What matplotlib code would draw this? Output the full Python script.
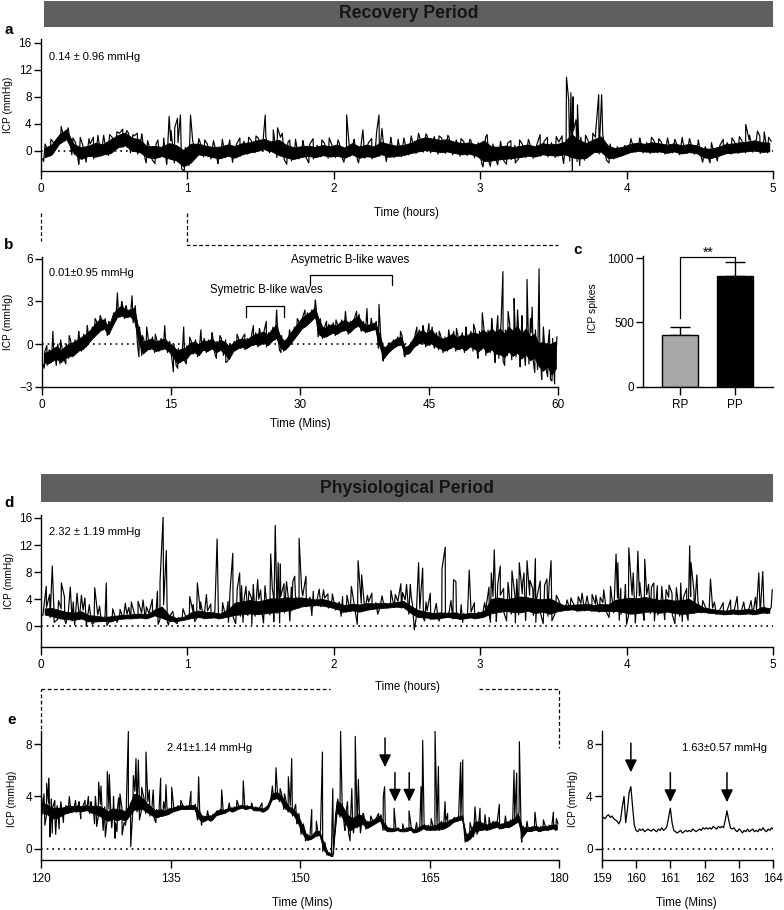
import numpy as np
import matplotlib
matplotlib.use('Agg')
import matplotlib.pyplot as plt
from matplotlib.patches import Rectangle

plt.rcParams['font.family'] = ['Liberation Sans', 'DejaVu Sans']

# ---------------- data ----------------
# panel a : recovery period, ICP every 0.025 h (alternating low / high of the band)
a_vals = [
    -1.2, 0.6, -0.8, 1.2, 0.8, 2.6, 1.5, 3.4, -0.6, 1.2,
    -1.5, 0.8, -1.0, 1.0, -1.2, 1.5, -0.8, 1.2, -0.7, 2.0,
    0.2, 2.6, 0.5, 3.0, -0.3, 2.2, -0.5, 2.0, -1.2, 0.9,
    -1.4, 1.0, -1.0, 0.8, -1.5, 1.5, -1.8, 1.2, -2.7, 0.5,
    -2.2, 1.5, -0.8, 1.3, -0.9, 1.0, -1.2, 0.8, -1.4, 0.9,
    -1.0, 1.2, -1.3, 1.0, -0.8, 1.4, -0.5, 1.5, -0.3, 1.8,
    0.0, 2.0, -0.3, 1.6, -1.0, 2.0, -1.3, 1.2, -1.5, 0.8,
    -1.2, 0.9, -1.0, 1.0, -1.2, 0.8, -0.9, 1.1, -1.1, 0.9,
    -1.0, 1.2, -1.3, 0.7, -0.8, 1.4, -1.3, 0.9, -1.1, 1.2,
    -1.2, 0.9, -0.8, 1.6, -1.2, 1.3, -1.0, 1.0, -0.9, 1.1,
    -0.6, 1.4, -0.4, 2.0, -0.2, 2.3, -0.3, 2.1, -0.5, 1.9,
    -0.4, 2.0, -0.6, 1.6, -0.8, 1.4, -0.7, 1.5, -1.0, 1.2,
    -2.0, 2.0, -1.8, 1.0, -1.6, 0.9, -1.5, 1.1, -1.3, 0.8,
    -1.2, 1.0, -1.0, 1.2, -1.1, 0.9, -0.8, 1.4, -0.9, 1.2,
    -1.0, 1.3, -0.8, 1.6, -1.5, 3.0, -1.6, 2.0, -1.4, 1.5,
    -0.5, 2.0, -0.5, 2.5, -1.4, 1.0, -1.2, 0.6, -0.8, 0.8,
    -0.4, 1.2, -0.2, 1.4, -0.3, 1.2, -0.4, 1.5, -0.3, 1.3,
    -0.5, 1.1, -0.3, 1.3, -0.6, 1.0, -0.4, 1.2, -0.5, 1.0,
    -1.2, 0.6, -1.3, 0.5, -1.0, 0.8, -0.6, 1.2, -0.5, 1.3,
    -0.4, 1.5, -0.3, 1.6, -0.2, 1.8, -0.4, 1.5, -0.3, 1.4,
]
a_spk_t = [0.14, 0.39, 0.43, 0.60, 0.66, 0.877, 0.915, 0.934, 0.954, 1.023,
           1.533, 1.588, 1.617, 1.65, 2.089, 2.2, 2.294, 2.31, 2.33, 3.048,
           3.41, 3.59, 3.605, 3.62, 3.63, 3.635, 3.655, 3.665, 3.81, 3.83,
           4.814, 4.894, 4.94]
a_spk_v = [3.6, 2.3, 2.3, 2.6, 2.6, 5.1, 3.4, 4.8, 5.3, 5.3,
           5.3, 3.1, 3.4, 2.6, 5.3, 3.1, 2.9, 5.3, 3.3, 2.4,
           2.4, 10.9, 7.5, 8.6, -3.1, 8.0, 4.6, 6.8, 8.3, 8.3,
           3.9, 2.9, 2.8]
# small excursions above / below the band
a_minor_t = [0.02, 0.03, 0.07, 0.22, 0.26, 0.27, 0.31, 0.33, 0.36, 0.47,
             0.52, 0.56, 0.63, 0.69, 0.72, 0.73, 0.78, 0.80, 0.84, 0.86,
             0.89, 0.98, 1.08, 1.12, 1.18, 1.21, 1.24, 1.29, 1.31, 1.36,
             1.42, 1.47, 1.68, 1.70, 1.74, 1.79, 1.83, 1.86, 1.92, 1.97,
             2.03, 2.07, 2.14, 2.17, 2.26, 2.36, 2.39, 2.44, 2.48, 2.53,
             2.58, 2.63, 2.72, 2.78, 2.87, 2.93, 3.02, 3.07, 3.12, 3.14,
             3.18, 3.21, 3.24, 3.27, 3.33, 3.46, 3.52, 3.56, 3.57, 3.68,
             3.72, 3.77, 3.79, 3.88, 4.03, 4.09, 4.17, 4.22, 4.28, 4.33,
             4.38, 4.43, 4.49, 4.52, 4.57, 4.58, 4.62, 4.66, 4.72, 4.77,
             4.84, 4.91, 4.97]
a_minor_v = [-1.6, 1.0, 1.7, 1.9, -2.0, 2.0, -1.7, 1.8, 2.0, 2.4,
             2.8, 3.2, 2.4, 2.5, -1.8, 1.5, -1.9, 1.6, 1.9, -2.0,
             3.0, -3.0, 1.8, 1.6, 1.5, -1.9, 1.7, 1.6, -1.7, 1.9,
             2.0, 2.2, -2.0, 1.6, 1.7, 1.5, -1.8, 1.8, 1.6, 1.9,
             1.6, -1.7, 1.7, -1.8, 1.8, -1.6, 2.0, 1.7, 1.9, 2.2,
             2.6, 2.5, 2.2, 2.3, 1.8, 1.7, -2.4, -2.3, -2.1, 1.4,
             -2.0, 1.5, -1.8, 1.6, 1.7, 2.0, 2.1, 2.2, -1.9, -2.2,
             2.3, 2.6, 3.0, -1.8, 1.8, 1.9, 2.0, 1.8, 1.9, 1.7,
             2.0, 1.8, 1.6, -1.7, -1.8, 1.2, -1.5, 1.7, 1.9, 2.1,
             2.3, 2.2, 2.0]

# panel b : first hour, every 0.25 min
b_vals = [
    -1.4, -0.5, -1.5, -0.4, -1.3, -0.2, -1.2, 0.0, -1.4, -0.3,
    -1.1, 0.0, -1.0, 0.2, -0.9, 0.3, -0.6, 0.5, -0.5, 0.7,
    -0.2, 0.9, 0.2, 1.2, 0.5, 1.6, 0.8, 1.9, 1.0, 1.8,
    0.6, 1.3, 1.2, 2.2, 1.8, 2.6, 1.9, 2.8, 1.8, 2.5,
    1.9, 2.5, 1.5, 2.7, 0.0, 1.2, -0.8, 0.3, -0.5, 0.4,
    -0.4, 0.5, -0.6, 0.3, -0.5, 0.4, -0.4, 0.5, -0.6, 0.2,
    -1.0, 0.0, -1.5, -0.3, -1.3, -0.2, -1.2, -0.1, -0.8, 0.2,
    -0.7, 0.3, -0.9, 0.1, -0.5, 0.4, -0.6, 0.3, -0.4, 0.5,
    -0.7, 0.2, -0.5, 0.4, -0.8, 0.3, -1.2, 0.0, -0.6, 0.2,
    -0.4, 0.4, -0.3, 0.5, -0.4, 0.4, -0.2, 0.6, -0.1, 0.8,
    -0.2, 0.9, 0.0, 1.0, -0.2, 0.8, 0.1, 1.2, 0.3, 1.5,
    -0.4, 0.6, -0.5, 0.3, -0.2, 0.8, 0.2, 1.2, 0.6, 1.6,
    1.0, 2.0, 1.2, 2.2, 1.5, 2.4, 1.8, 2.7, 0.5, 1.8,
    0.4, 1.2, 0.5, 1.4, 0.7, 1.5, 0.6, 1.4, 0.8, 1.7,
    0.9, 1.8, 0.7, 1.6, 1.0, 1.9, 1.2, 2.1, 0.9, 1.6,
    0.8, 1.4, 0.9, 1.5, 1.0, 1.6, -0.3, 0.8, -1.1, -0.2,
    -0.7, 0.1, -0.4, 0.3, -0.2, 0.5, -0.1, 0.6, -0.8, -0.2,
    -0.7, 0.1, -0.3, 0.6, -0.1, 1.0, 0.0, 1.1, -0.2, 0.9,
    -0.1, 1.2, -0.3, 0.8, -0.4, 0.6, -0.6, 0.5, -0.5, 0.7,
    -0.3, 0.9, -0.5, 0.6, -0.4, 0.8, -0.6, 0.7, -0.3, 0.9,
    -0.5, 1.0, -0.7, 0.9, -0.4, 1.2, -0.8, 1.0, -0.6, 1.3,
    -0.9, 1.1, -1.0, 1.4, -1.2, 1.0, -0.8, 1.5, -1.1, 1.2,
    -0.9, 1.6, -1.3, 1.0, -1.0, 1.4, -1.4, 0.8, -1.2, 1.0,
    -1.8, 0.3, -2.2, 0.5, -1.8, 0.2, -2.5, 0.4, -2.0, 0.5,
]
b_spk_t = [1.3, 8.8, 10.5, 12.2, 14.3, 15.3, 16.5, 18.5, 24.6, 26.1,
           27.3, 31.8, 35.3, 37.8, 39.2, 45.0, 51.2, 53.6, 54.9, 56.4,
           57.0, 57.8, 59.6]
b_spk_v = [0.9, 3.6, 3.4, 1.2, 1.3, -1.95, 1.2, 1.0, 1.3, 1.6,
           2.4, 3.1, 2.3, 2.5, 2.8, 1.45, 2.2, 5.1, 3.2, 4.55,
           2.6, 5.3, -2.8]
b_minor_t = [0.3, 0.6, 1.7, 2.2, 2.8, 3.2, 4.3, 5.3, 6.2, 6.8,
             7.8, 9.3, 9.8, 11.3, 11.7, 13.2, 15.8, 16.8, 17.2, 19.8,
             20.3, 20.7, 21.4, 22.7, 23.6, 25.3, 27.8, 28.8, 29.7, 30.6,
             33.1, 34.2, 36.6, 38.3, 39.7, 41.7, 42.2, 43.6, 44.3, 46.2,
             47.3, 48.2, 49.3, 50.2, 50.7, 52.3, 52.7, 53.0, 53.8, 54.2,
             55.3, 55.6, 55.8, 56.2, 56.8, 57.3, 58.1, 58.3, 58.8, 59.0,
             59.3]
b_minor_v = [-1.7, -0.1, -1.5, 0.3, -1.4, 0.6, 0.9, 1.3, 1.8, 2.0,
             1.6, 3.0, 2.7, -0.9, 0.6, 0.7, -1.7, -1.4, 0.5, 0.8,
             -1.0, 0.6, -1.3, 0.7, 0.7, 1.1, -0.6, 1.0, 1.8, 2.4,
             1.6, 1.7, 2.3, 1.8, -1.2, 0.9, -0.9, 1.2, 1.3, 0.9,
             1.0, 1.1, 1.2, 1.4, -1.0, 1.8, -1.3, 2.0, -1.5, 2.3,
             2.4, -1.6, 2.0, -1.5, 1.8, -2.0, -2.5, 1.2, -2.3, 1.0,
             -2.6]

# panel c : ICP spikes
groups = ['RP', 'PP']
spikes_mean = [402, 862]
spikes_err = [60, 111]

# panel d : physiological period, every 0.025 h
d_vals = [
    1.6, 2.8, 1.3, 2.9, 1.0, 2.6, 0.9, 2.3, 0.8, 2.2,
    1.0, 2.4, 0.6, 1.8, 0.6, 1.7, 0.7, 1.5, 0.6, 1.6,
    1.0, 1.7, 1.1, 1.8, 1.1, 1.9, 1.2, 2.0, 1.1, 1.9,
    1.5, 2.6, 1.0, 3.2, 0.7, 1.8, 0.7, 1.3, 0.9, 1.5,
    1.1, 2.2, 1.2, 2.5, 1.1, 2.3, 1.2, 2.2, 1.1, 2.0,
    1.3, 2.6, 1.4, 3.8, 1.5, 4.0, 1.6, 4.2, 1.5, 4.0,
    1.6, 4.2, 1.7, 4.5, 1.9, 4.4, 2.0, 4.6, 2.3, 4.5,
    2.7, 4.5, 2.9, 4.3, 3.0, 4.1, 2.9, 4.2, 2.7, 3.9,
    2.4, 3.6, 2.0, 3.3, 2.2, 3.5, 2.0, 3.4, 2.3, 3.6,
    2.5, 3.5, 2.6, 3.6, 2.7, 3.5, 2.8, 3.7, 2.7, 3.9,
    1.8, 3.2, 1.2, 2.6, 1.2, 2.3, 1.0, 2.1, 1.1, 2.2,
    1.3, 2.1, 1.1, 2.2, 1.0, 1.9, 1.2, 2.1, 1.1, 2.1,
    1.3, 2.4, 1.6, 4.4, 1.8, 4.6, 2.0, 4.3, 1.8, 4.5,
    1.7, 4.8, 2.0, 4.6, 1.6, 4.4, 1.9, 4.3, 1.5, 4.5,
    2.0, 3.8, 2.3, 3.2, 2.4, 3.3, 2.2, 3.4, 2.3, 3.5,
    2.2, 3.3, 2.1, 3.5, 2.1, 3.4, 2.0, 4.2, 1.8, 4.4,
    1.5, 4.6, 1.6, 4.5, 1.8, 4.7, 1.9, 4.4, 1.7, 4.2,
    1.9, 4.3, 1.7, 4.1, 1.5, 4.2, 1.6, 4.4, 1.9, 3.6,
    2.0, 2.9, 1.9, 2.7, 1.8, 2.5, 1.7, 2.4, 1.8, 2.6,
    1.7, 2.5, 1.8, 2.7, 1.7, 2.5, 1.9, 3.0, 1.9, 2.8,
]
d_spk_t = [0.036, 0.059, 0.077, 0.139, 0.20, 0.246, 0.276, 0.30, 0.367, 0.446,
           0.576, 0.617, 0.663, 0.697, 0.795, 0.813, 0.834, 0.856, 1.016, 1.068,
           1.13, 1.203, 1.278, 1.31, 1.357, 1.40, 1.48, 1.569, 1.60, 1.62,
           1.635, 1.677, 1.733, 1.763, 1.81, 1.93, 1.96, 2.12, 2.166, 2.19,
           2.26, 2.39, 2.458, 2.497, 2.522, 2.579, 2.607, 2.659, 2.739, 2.761,
           2.818, 2.834, 2.925, 3.076, 3.096, 3.137, 3.217, 3.267, 3.299, 3.32,
           3.377, 3.456, 3.484, 3.594, 3.696, 3.764, 3.844, 3.928, 3.94, 3.992,
           4.015, 4.045, 4.077, 4.124, 4.186, 4.24, 4.31, 4.431, 4.44, 4.48,
           4.573, 4.755, 4.903, 4.93, 4.995]
d_spk_v = [5.9, 4.7, 8.9, 6.4, 5.8, 4.9, 4.6, 4.2, 5.7, 6.4,
           3.4, 3.6, 3.7, 3.9, 5.2, 6.6, 16.1, 11.2, 4.4, 6.4,
           4.7, 12.9, 3.7, 10.8, 7.9, 5.9, 6.9, 10.7, 14.9, 9.4,
           9.2, 6.6, 7.4, 13.0, 7.4, 5.4, 4.8, 5.9, 9.7, 7.6,
           4.9, 5.3, 6.3, 6.2, 6.2, 9.4, 8.6, 4.9, 8.5, 11.7,
           6.9, 6.6, 8.3, 7.9, 11.3, 8.9, 8.2, 9.4, 7.9, 9.7,
           10.0, 7.0, 9.7, 3.9, 4.9, 4.7, 5.4, 10.7, 9.4, 6.2,
           11.6, 7.9, 11.1, 9.9, 6.4, 5.9, 4.9, 11.9, 9.4, 7.6,
           7.0, 4.4, 7.9, 8.1, 5.4]
d_minor_t = [0.09, 0.12, 0.16, 0.17, 0.22, 0.23, 0.31, 0.33, 0.35, 0.40,
             0.45, 0.49, 0.52, 0.54, 0.60, 0.72, 0.76, 0.80, 0.87, 0.90,
             0.93, 0.97, 1.04, 1.05, 1.09, 1.16, 1.24, 1.28, 1.29, 1.33,
             1.34, 1.37, 1.38, 1.42, 1.44, 1.45, 1.50, 1.52, 1.53, 1.58,
             1.59, 1.63, 1.66, 1.70, 1.71, 1.72, 1.78, 1.85, 1.86, 1.90,
             1.99, 2.05, 2.06, 2.09, 2.16, 2.23, 2.30, 2.33, 2.42, 2.47,
             2.53, 2.55, 2.62, 2.63, 2.70, 2.72, 2.80, 2.87, 2.88, 2.96,
             3.03, 3.06, 3.07, 3.11, 3.12, 3.16, 3.18, 3.19, 3.23, 3.24,
             3.25, 3.29, 3.31, 3.34, 3.36, 3.38, 3.41, 3.43, 3.44, 3.47,
             3.49, 3.52, 3.62, 3.67, 3.73, 3.79, 3.82, 3.88, 3.89, 3.95,
             3.96, 4.00, 4.03, 4.06, 4.07, 4.09, 4.12, 4.15, 4.17, 4.19,
             4.21, 4.26, 4.27, 4.29, 4.33, 4.34, 4.37, 4.38, 4.41, 4.42,
             4.46, 4.52, 4.60, 4.66, 4.71, 4.80, 4.85, 4.88]
d_minor_v = [0.6, 3.8, 4.4, 0.4, 3.6, 0.2, 0.0, 3.2, 0.3, 3.0,
             0.1, 2.6, 0.6, 2.5, 2.8, 2.9, 4.0, 0.3, 0.2, 2.2,
             0.4, 2.6, 3.2, 0.7, 3.6, 3.3, 3.5, 0.6, 4.8, 0.4,
             5.5, 6.0, 0.6, 5.2, 0.3, 6.2, 5.4, 0.5, 6.0, 5.6,
             0.7, 0.5, 6.3, 0.8, 5.8, 6.6, 5.6, 1.6, 5.2, 5.5,
             4.8, 1.5, 4.4, 4.6, 0.3, 4.6, 1.8, 4.5, 4.7, 5.0,
             4.2, -0.5, 0.8, 3.6, 3.4, 0.8, 3.8, 3.2, 0.6, 3.5,
             3.5, 5.8, 0.6, 0.7, 6.2, 5.6, 0.8, 6.5, 5.9, 0.5,
             7.0, 6.4, 0.9, 6.8, 5.5, 0.6, 6.7, 0.4, 6.1, 5.8,
             0.8, 4.6, 4.2, 4.4, 4.5, 4.6, 4.3, 1.3, 5.9, 0.9,
             5.6, 0.3, 6.8, 0.5, 5.9, 6.5, 0.9, 6.2, 5.8, 0.8,
             6.0, 1.0, 5.4, 6.1, 0.4, 5.7, 6.4, 0.7, 5.6, 0.9,
             5.2, 3.8, 3.6, 3.5, 3.9, 3.6, 3.8, 4.3]

# panel e : minutes 120-180, every 0.25 min
e_vals = [
    2.6, 3.6, 2.5, 3.5, 2.2, 3.2, 2.2, 3.3, 2.4, 3.2,
    2.6, 3.3, 2.7, 3.4, 2.8, 3.3, 2.8, 3.4, 2.8, 3.3,
    2.9, 3.4, 2.7, 3.3, 2.6, 3.4, 2.4, 3.4, 2.2, 3.2,
    2.0, 3.0, 2.2, 3.2, 2.0, 3.2, 2.2, 3.1, 2.0, 3.0,
    2.4, 3.5, 2.8, 4.4, 2.8, 4.3, 2.9, 4.0, 2.7, 3.6,
    2.5, 3.3, 2.3, 3.0, 2.4, 3.1, 2.5, 3.0, 2.6, 3.1,
    2.8, 3.2, 2.9, 3.3, 3.0, 3.4, 3.0, 3.3, 3.0, 3.4,
    3.0, 3.4, 2.2, 3.0, 2.0, 2.5, 2.2, 2.6, 2.1, 2.6,
    2.5, 2.9, 2.6, 3.1, 2.7, 3.0, 2.9, 3.2, 2.8, 3.2,
    3.0, 3.3, 3.1, 3.4, 3.0, 3.3, 3.1, 3.3, 2.9, 3.2,
    2.9, 3.2, 2.8, 3.1, 3.0, 3.4, 3.7, 4.3, 3.8, 4.4,
    3.6, 4.2, 3.0, 3.7, 2.8, 3.3, 2.5, 3.1, 1.9, 2.7,
    1.1, 1.9, 0.6, 1.1, 0.7, 1.0, 0.9, 1.4, 1.0, 1.4,
    -0.2, 0.5, -0.5, -0.3, -0.6, -0.4, 2.6, 3.8, 2.4, 3.6,
    1.8, 3.0, 1.2, 2.6, 1.5, 2.5, 1.6, 2.8, 1.8, 2.6,
    1.5, 2.1, 1.7, 2.2, 1.9, 2.4, 2.1, 2.6, 1.4, 2.0,
    1.3, 1.6, 1.3, 1.6, 1.4, 1.6, 1.3, 1.5, 1.3, 1.6,
    1.4, 1.7, 1.2, 1.5, 1.3, 1.7, 1.5, 1.9, 1.4, 1.8,
    1.4, 1.8, 1.4, 1.9, 1.4, 2.1, 1.5, 2.1, 1.7, 2.2,
    2.0, 2.4, 2.1, 2.5, 2.2, 2.6, 0.5, 1.1, 0.7, 1.5,
    1.2, 2.2, 1.3, 2.2, 1.4, 2.0, 1.4, 1.9, 1.5, 2.1,
    1.6, 2.2, 1.5, 1.9, 1.6, 2.1, 1.6, 2.2, 1.8, 2.4,
    2.0, 2.8, 0.8, 1.7, 1.3, 1.7, 1.3, 1.7, 1.4, 1.8,
    1.3, 1.7, 1.4, 1.8, 1.4, 1.8, 1.5, 1.9, 1.4, 1.9,
]
e_spk_t = [120.35, 120.66, 120.89, 123.28, 125.48, 126.68, 126.95, 127.68, 127.91, 129.15,
           130.12, 130.39, 130.7, 131.0, 131.27, 131.66, 132.16, 132.55, 133.0, 133.86,
           134.48, 135.14, 137.37, 138.26, 140.93, 143.43, 147.22, 148.65, 149.04, 151.36,
           151.9, 152.6, 153.8, 154.7, 155.8, 156.0, 156.4, 156.76, 159.65, 159.8,
           160.9, 162.63, 164.02, 164.21, 165.64, 166.03, 166.8, 168.6, 168.85, 170.27,
           170.85, 171.43, 173.09, 174.79, 175.1, 175.41, 175.68, 177.22, 179.35]
e_spk_v = [4.2, 5.0, 5.4, 4.0, 4.0, 5.1, 4.8, 5.9, 5.7, 4.2,
           9.0, 0.15, 5.6, 6.9, 6.8, 4.7, 7.4, 4.5, 4.5, 5.4,
           4.9, 4.7, 4.4, 5.5, 4.5, 5.2, 6.2, 5.5, 6.9, 3.0,
           2.1, 7.4, 4.6, 9.0, 0.6, 4.6, 8.6, 5.3, 4.0, 4.75,
           3.1, 2.9, 4.75, 8.3, 9.0, 6.3, 3.6, 6.6, 6.8, 3.2,
           3.1, 2.6, 3.4, 6.0, 5.8, 8.2, 0.5, 2.8, 2.8]
e_minor_t = [120.1, 120.45, 121.04, 121.2, 121.3, 121.6, 121.7, 122.1, 122.3, 122.6,
             124.0, 124.4, 124.6, 125.1, 125.8, 126.2, 126.3, 126.45, 127.2, 127.45,
             128.2, 128.4, 128.57, 128.8, 129.0, 129.4, 129.8, 129.9, 131.4, 131.9,
             132.9, 133.3, 134.2, 136.2, 138.6, 139.3, 141.8, 142.7, 144.4, 145.6,
             146.8, 147.7, 148.2, 149.5, 149.8, 150.6, 155.2, 155.5, 156.2, 157.0,
             157.3, 158.2, 159.1, 161.9, 163.5, 165.2, 167.1, 169.7, 170.1, 170.5,
             171.9, 173.8, 176.3, 178.2, 179.7]
e_minor_v = [3.9, 1.8, 0.9, 3.8, 1.2, 3.7, 1.1, 1.5, 3.6, 2.0,
             3.7, 3.6, 2.3, 3.7, 3.6, 1.9, 4.0, 1.7, 1.4, 0.9,
             1.6, 4.0, 0.8, 1.3, 3.9, 1.05, 1.8, 3.8, 2.2, 4.0,
             3.7, 2.0, 3.6, 3.7, 1.8, 2.9, 3.5, 3.7, 3.5, 3.5,
             4.8, 4.6, 4.2, 3.4, 2.0, 1.3, 1.4, 3.6, 1.2, 1.2,
             2.7, 2.5, 2.7, 1.9, 2.0, 2.3, 2.7, 2.0, 0.9, 1.1,
             2.4, 2.5, 2.1, 2.2, 2.3]

# panel e, right : minutes 159-164, every 0.05 min
z_vals = [
    2.2, 2.4, 2.3, 2.5, 2.6, 2.4, 2.5, 2.3, 2.2, 2.1,
    1.9, 2.2, 3.2, 4.0, 2.0, 3.0, 4.3, 4.75, 3.2, 1.8,
    1.4, 1.3, 1.5, 1.4, 1.5, 1.3, 1.4, 1.5, 1.4, 1.35,
    1.5, 1.4, 1.3, 1.5, 1.4, 1.6, 1.4, 1.5, 1.7, 2.4,
    3.1, 2.0, 1.4, 1.3, 1.2, 1.3, 1.4, 1.2, 1.3, 1.4,
    1.3, 1.4, 1.3, 1.5, 1.4, 1.3, 1.4, 1.5, 1.4, 1.6,
    1.5, 1.6, 1.5, 1.6, 1.5, 1.7, 1.6, 1.5, 1.7, 1.6,
    1.7, 1.6, 2.2, 2.9, 2.2, 1.6, 1.5, 1.6, 1.4, 1.3,
    1.5, 1.4, 1.2, 1.4, 1.3, 1.5, 1.3, 1.4, 1.5, 1.3,
    1.4, 1.3, 1.5, 1.4, 1.6, 1.4, 1.3, 1.5, 1.4, 1.6,
    1.5,
]
arrows_e = [159.85, 161.0, 162.65]


def draw_signal(ax, t0, dt, vals, sp_t, sp_v, mi_t, mi_v):
    # dense recording: solid body of each low/high pair, then the raw trace on top
    lo = np.array(vals[0::2])
    hi = np.array(vals[1::2])
    tm = t0 + dt * (2 * np.arange(len(lo)) + 1.0)
    span = hi - lo
    ax.fill_between(tm, lo + 0.12 * span, hi - 0.12 * span, color='k', lw=0.6,
                    edgecolor='k', zorder=2)
    t = np.concatenate([t0 + dt * (np.arange(len(vals)) + 0.5), sp_t, mi_t])
    v = np.concatenate([vals, sp_v, mi_v])
    o = np.argsort(t, kind='stable')
    ax.plot(t[o], v[o], color='k', lw=0.85, zorder=3)


def style(ax):
    ax.spines['top'].set_visible(False)
    ax.spines['right'].set_visible(False)
    ax.spines['left'].set_linewidth(1.0)
    ax.spines['bottom'].set_linewidth(1.0)
    ax.tick_params(direction='out', width=1.0, labelsize=8.5, colors='k')
    ax.tick_params(axis='y', length=5, pad=1.5)
    ax.tick_params(axis='x', length=6, pad=3)


def zero_line(ax, x0, x1):
    ax.plot([x0, x1], [0, 0], color='k', lw=1.2, ls=(0, (1, 2.4)), zorder=1)


W, H = 784, 910
fig = plt.figure(figsize=(W / 100, H / 100), dpi=100)
fig.patch.set_facecolor('white')


def box(l, r, top, bot):
    return [l / W, 1 - bot / H, (r - l) / W, (bot - top) / H]


# ---- a
ax_a = fig.add_axes(box(40.7, 773, 39.4, 171))
zero_line(ax_a, 0, 5)
draw_signal(ax_a, 0, 0.025, a_vals, a_spk_t, a_spk_v, a_minor_t, a_minor_v)
ax_a.set_xlim(0, 5)
ax_a.set_ylim(-3, 16.5)
ax_a.set_xticks([0, 1, 2, 3, 4, 5])
ax_a.set_yticks([0, 4, 8, 12, 16])
style(ax_a)
ax_a.set_xlabel('Time (hours)', fontsize=8.3, va='center')
ax_a.xaxis.set_label_coords(0.5, -0.319)
ax_a.set_ylabel('ICP (mmHg)', fontsize=7.3, va='center', ha='center')
ax_a.yaxis.set_label_coords(-0.044, 0.5)

# ---- b
ax_b = fig.add_axes(box(41.7, 558, 256.7, 386.7))
zero_line(ax_b, 0, 60)
draw_signal(ax_b, 0, 0.25, b_vals, b_spk_t, b_spk_v, b_minor_t, b_minor_v)
ax_b.set_xlim(0, 60)
ax_b.set_ylim(-3, 6.15)
ax_b.set_xticks([0, 15, 30, 45, 60])
ax_b.set_yticks([-3, 0, 3, 6])
style(ax_b)
ax_b.set_xlabel('Time (Mins)', fontsize=8.3, va='center')
ax_b.xaxis.set_label_coords(0.5, -0.287)
ax_b.set_ylabel('ICP (mmHg)', fontsize=7.3, va='center', ha='center')
ax_b.yaxis.set_label_coords(-0.065, 0.5)
# wave brackets
ax_b.plot([23.8, 23.8, 28.1, 28.1], [1.92, 2.7, 2.7, 1.92], color='k', lw=0.9)
ax_b.plot([31.2, 31.2, 40.7, 40.7], [4.15, 4.86, 4.86, 4.15], color='k', lw=0.9)
ax_b.text(26.1, 3.8, 'Symetric B-like waves', fontsize=8.3, ha='center', va='center')
ax_b.text(35.9, 5.9, 'Asymetric B-like waves', fontsize=8.3, ha='center', va='center',
          clip_on=False)

# ---- c
ax_c = fig.add_axes(box(643, 773, 255.7, 386.7))
xc = np.arange(len(groups))
ax_c.bar(xc, spikes_mean, width=0.657, color=['#a8a8a8', 'black'],
         edgecolor='black', linewidth=1.0, zorder=2)
ax_c.errorbar(xc, spikes_mean, yerr=[[0, 0], spikes_err], fmt='none', ecolor='k',
              elinewidth=1.0, capsize=7.2, capthick=1.0, zorder=1)
ax_c.plot([0, 0, 1, 1], [533, 1006, 1006, 980], color='k', lw=0.9, clip_on=False)
ax_c.text(0.5, 1045, '**', fontsize=10, ha='center', va='center')
ax_c.set_xlim(-0.684, 1.688)
ax_c.set_ylim(0, 1020)
ax_c.set_xticks(xc)
ax_c.set_xticklabels(groups)
ax_c.set_yticks([0, 500, 1000])
style(ax_c)
ax_c.set_ylabel('ICP spikes', fontsize=7.5, va='center', ha='center')
ax_c.yaxis.set_label_coords(-0.385, 0.6)

# ---- d
ax_d = fig.add_axes(box(41, 773, 514.6, 646.7))
zero_line(ax_d, 0, 5)
draw_signal(ax_d, 0, 0.025, d_vals, d_spk_t, d_spk_v, d_minor_t, d_minor_v)
ax_d.set_xlim(0, 5)
ax_d.set_ylim(-3, 16.5)
ax_d.set_xticks([0, 1, 2, 3, 4, 5])
ax_d.set_yticks([0, 4, 8, 12, 16])
style(ax_d)
ax_d.set_xlabel('Time (hours)', fontsize=8.3, va='center')
ax_d.xaxis.set_label_coords(0.5, -0.303)
ax_d.set_ylabel('ICP (mmHg)', fontsize=7.3, va='center', ha='center')
ax_d.yaxis.set_label_coords(-0.044, 0.5)

# ---- e (main)
ax_e = fig.add_axes(box(41, 559, 731.2, 860.4))
zero_line(ax_e, 120, 180)
draw_signal(ax_e, 120, 0.25, e_vals, e_spk_t, e_spk_v, e_minor_t, e_minor_v)
ax_e.set_xlim(120, 180)
ax_e.set_ylim(-0.9, 9.0)
ax_e.set_xticks([120, 135, 150, 165, 180])
ax_e.set_yticks([0, 4, 8])
style(ax_e)
ax_e.set_xlabel('Time (Mins)', fontsize=8.3, va='center')
ax_e.xaxis.set_label_coords(0.504, -0.332)
ax_e.set_ylabel('ICP (mmHg)', fontsize=7.3, va='center', ha='center')
ax_e.yaxis.set_label_coords(-0.056, 0.48)

# ---- e (zoom)
ax_f = fig.add_axes(box(601.7, 773.3, 731.2, 860.4))
tz = np.linspace(159, 164, len(z_vals))
zero_line(ax_f, 159, 164)
ax_f.plot(tz, z_vals, color='k', lw=0.9, zorder=2)
ax_f.set_xlim(159, 164)
ax_f.set_ylim(-0.9, 9.0)
ax_f.set_xticks([159, 160, 161, 162, 163, 164])
ax_f.set_yticks([0, 4, 8])
style(ax_f)
ax_f.set_xlabel('Time (Mins)', fontsize=8.3, va='center')
ax_f.xaxis.set_label_coords(0.495, -0.332)
ax_f.set_ylabel('ICP (mmHg)', fontsize=7.3, va='center', ha='center')
ax_f.yaxis.set_label_coords(-0.165, 0.48)

arr = dict(arrowstyle='-|>,head_length=0.75,head_width=0.36', color='k', lw=1.1,
           shrinkA=0, shrinkB=0, mutation_scale=10)
tails = [8.48, 5.82, 5.82]
heads = [6.24, 3.6, 3.6]
for x, y0, y1 in zip(arrows_e, tails, heads):
    ax_e.annotate('', xy=(x, y1), xytext=(x, y0), arrowprops=arr)
tails_z = [8.08, 5.82, 5.82]
heads_z = [5.85, 3.56, 3.56]
for x, y0, y1 in zip(arrows_e, tails_z, heads_z):
    ax_f.annotate('', xy=(x, y1), xytext=(x, y0), arrowprops=arr)

# ---- overlay in pixel units: headers, panel letters, notes, dashed guides
ov = fig.add_axes([0, 0, 1, 1])
ov.set_xlim(0, W)
ov.set_ylim(H, 0)
ov.axis('off')

ov.add_patch(Rectangle((44, 0.5), 729, 26.5, facecolor='#5f5f5f', edgecolor='none'))
ov.text(408.5, 14, 'Recovery Period', fontsize=12.7, fontweight='bold',
        color='#151515', ha='center', va='center')
ov.add_patch(Rectangle((41, 474.3), 732, 28, facecolor='#5f5f5f', edgecolor='none'))
ov.text(407, 488.5, 'Physiological Period', fontsize=12.7, fontweight='bold',
        color='#151515', ha='center', va='center')

for lab, x, y in [('a', 9, 30), ('b', 9, 245), ('c', 578, 250), ('d', 9, 503), ('e', 12, 720)]:
    ov.text(x, y, lab, fontsize=11, fontweight='bold', ha='center', va='center')

notes = [('0.14 \u00b1 0.96 mmHg', 49, 57), ('0.01\u00b10.95 mmHg', 49, 272.7),
         ('2.32 \u00b1 1.19 mmHg', 49, 531.7), ('2.41\u00b11.14 mmHg', 166.7, 748.3),
         ('1.63\u00b10.57 mmHg', 681.7, 748.3)]
for s, x, y in notes:
    ov.text(x, y, s, fontsize=8, ha='left', va='center')

dash = dict(color='k', lw=0.9, ls=(0, (3, 2)))
ov.plot([40.7, 40.7], [213, 240.7], **dash)
ov.plot([187, 187, 558], [213, 245, 245], **dash)
ov.plot([41, 41], [729, 689.3], **dash)
ov.plot([41, 330], [689.3, 689.3], **dash)
ov.plot([479.3, 559, 559], [689.3, 689.3, 748.3], **dash)

fig.savefig('out.png', dpi=100)
